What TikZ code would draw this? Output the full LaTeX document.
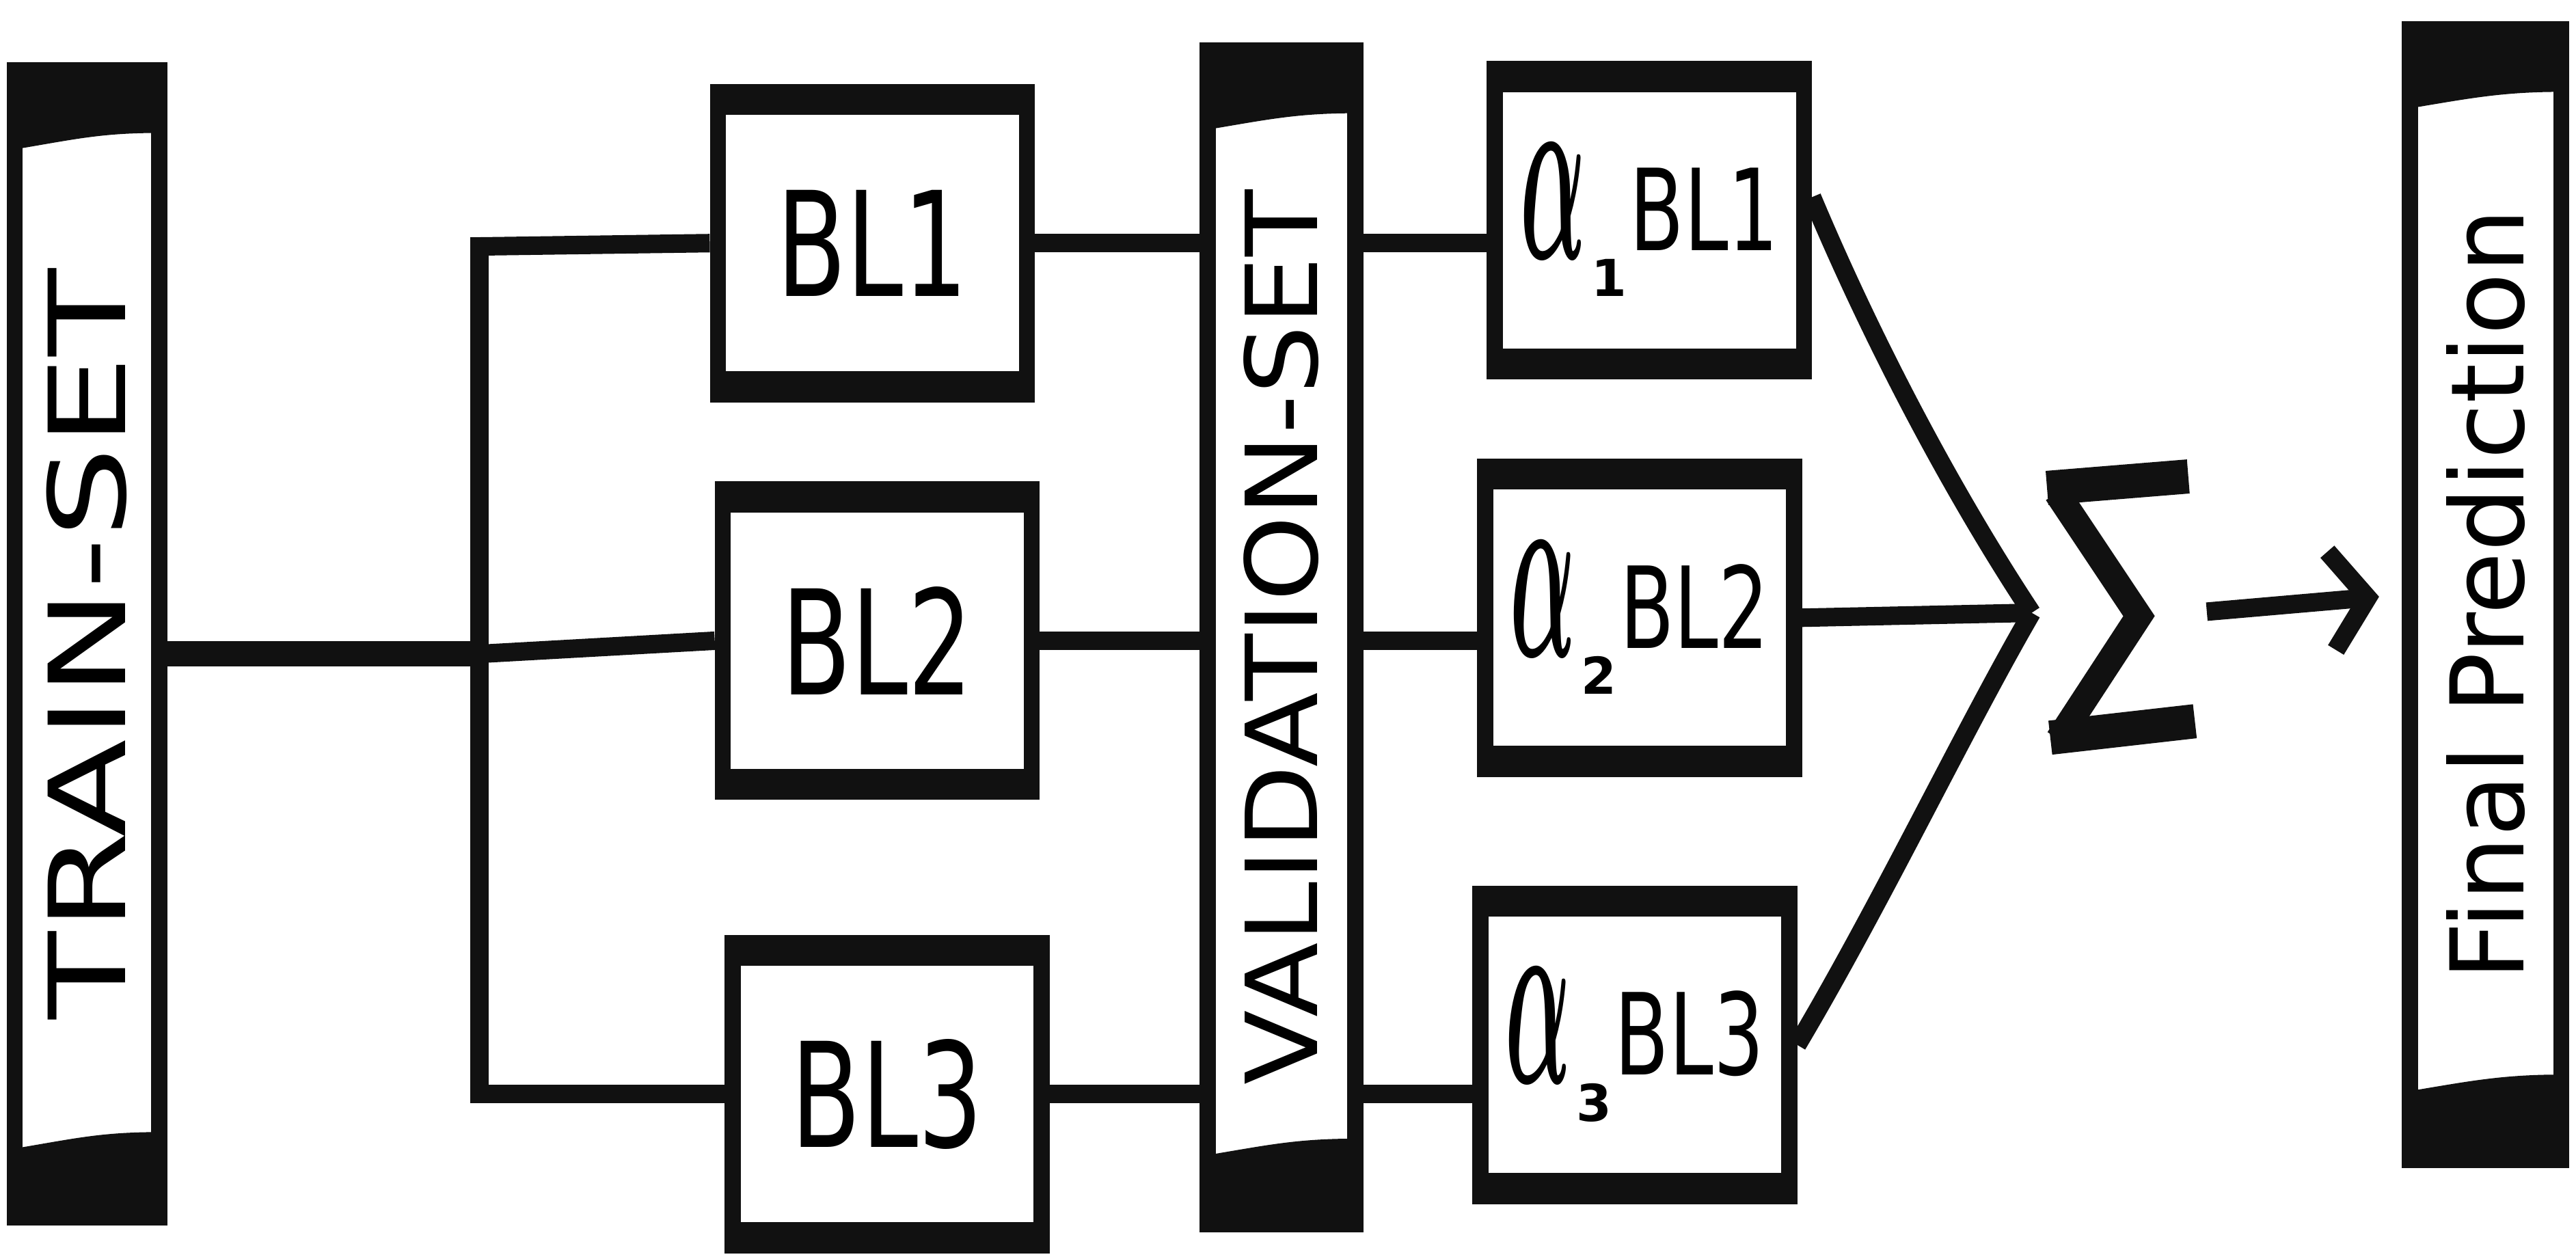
\documentclass[tikz,border=0pt]{standalone}
\usepackage{amsmath}
\usepackage{fontspec}
\setmainfont{DejaVu Sans}
\newfontfamily\blfont[FakeStretch=0.7]{DejaVu Sans}
\newfontfamily\trainfont[FakeStretch=1.35]{DejaVu Sans}
\newfontfamily\validfont[FakeStretch=1.1]{DejaVu Sans}
\usetikzlibrary{calc,arrows.meta}
\definecolor{ink}{HTML}{111111}
\tikzset{box/.style={draw=ink,line width=7pt,minimum width=4.7cm,minimum height=4.6cm,inner sep=0pt,
path picture={\fill[ink] (path picture bounding box.north west) rectangle ([yshift=-0.35cm]path picture bounding box.north east);
\fill[ink] (path picture bounding box.south west) rectangle ([yshift=0.35cm]path picture bounding box.south east);}},
banner/.style={draw=ink,line width=7pt,inner sep=0pt,
path picture={\fill[ink] (path picture bounding box.north west) -- (path picture bounding box.north east) -- ([yshift=-0.95cm]path picture bounding box.north east) .. controls +(-0.9cm,0cm) and +(0.9cm,0.15cm) .. ([yshift=-1.2cm]path picture bounding box.north west) -- cycle;
\fill[ink] (path picture bounding box.south west) -- (path picture bounding box.south east) -- ([yshift=1.3cm]path picture bounding box.south east) .. controls +(-0.9cm,0cm) and +(0.9cm,0.15cm) .. ([yshift=1.05cm]path picture bounding box.south west) -- cycle;}},
bltext/.style={font=\blfont\fontsize{63}{63}\selectfont},
link/.style={draw=ink,line width=8pt}}
\newcommand\wbl[2]{\raisebox{-0.125cm}{\resizebox{1.0cm}{1.75cm}{$\boldsymbol{\alpha}$}}\hspace{0.08cm}\raisebox{-0.7cm}{\fontsize{22}{22}\selectfont\bfseries #1}\hspace{0.05cm}{\blfont\fontsize{49}{49}\selectfont #2}}

\begin{document}
\begin{tikzpicture}[x=0.025cm,y=-0.025cm]
\useasboundingbox (0,0) rectangle (1568,766);
% data sets
\node[banner,minimum width=2.2cm,minimum height=17.45cm] (train) at (53,392) {\rotatebox{90}{\trainfont\fontsize{46}{46}\selectfont TRAIN-SET}};
\node[banner,minimum width=2.25cm,minimum height=17.85cm] (valid) at (780,388) {\rotatebox{90}{\validfont\fontsize{43}{43}\selectfont VALIDATION-SET}};
\node[banner,minimum width=2.3cm,minimum height=17.2cm] (final) at (1513,362) {\rotatebox{90}{\fontsize{44}{44}\selectfont Final Prediction}};

% base learners
\node[box,bltext] (bl1) at (531,148) {BL1};
\node[box,bltext] (bl2) at (534,390) {BL2};
\node[box,bltext] (bl3) at (540,666) {BL3};

% weighted learners
\node[box] (a1) at (1004,134) {\wbl{1}{BL1}};
\node[box] (a2) at (998,376) {\wbl{2}{BL2}};
\node[box] (a3) at (995,636) {\wbl{3}{BL3}};

\node[minimum width=2.25cm,minimum height=4.4cm] (sum) at (1290,373) {};
\draw[ink,line width=0.4cm,line join=miter] (1252,300) -- (1302,375) -- (1253,450);
\draw[ink,line width=0.52cm] (1246,297) -- (1332,290);
\draw[ink,line width=0.52cm] (1248,449) -- (1336,439);

\coordinate (split) at (292,398);
\coordinate (bustop) at (292,150);
\coordinate (busbot) at (292,666);
\coordinate (join) at ([xshift=-0.2cm]sum.west);

\draw[link,line width=11pt] (train.east |- split) -- (split);
\draw[link,line cap=rect] (bustop) -- (busbot);
\draw[link] (bustop) -- (bl1.west);
\draw[link] (split) -- (bl2.west);
\draw[link] (busbot) -- (bl3.west);

\draw[link] (bl1.east) -- (bl1.east -| valid.west);
\draw[link] (bl2.east) -- (bl2.east -| valid.west);
\draw[link] (bl3.east) -- (bl3.east -| valid.west);
\draw[link] (valid.east |- bl1.east) -- (a1.west |- bl1.east);
\draw[link] (valid.east |- bl2.east) -- (a2.west |- bl2.east);
\draw[link] (valid.east |- bl3.east) -- (a3.west |- bl3.east);

\draw[link] ([yshift=0.35cm]a1.east) .. controls (1145,220) and (1195,310) .. (join);
\draw[link] (a2.east) -- (join);
\draw[link] (a3.east) .. controls (1145,550) and (1195,445) .. (join);

\draw[link,-{Straight Barb[length=0.55cm,width=1.5cm]},shorten <=0.2cm,shorten >=0.35cm] (sum.east) -- (final.west);
\end{tikzpicture}
\end{document}
